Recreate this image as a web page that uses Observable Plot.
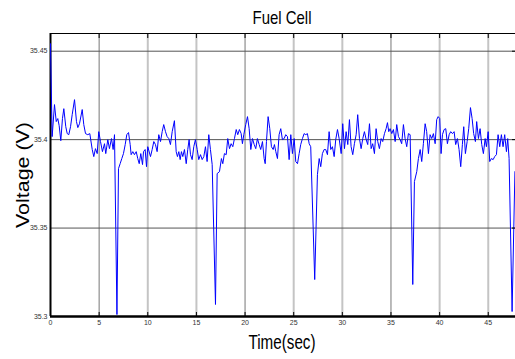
<!DOCTYPE html>
<html>
<head>
<meta charset="utf-8">
<script src="https://cdn.jsdelivr.net/npm/d3@7"></script>
<script src="https://cdn.jsdelivr.net/npm/@observablehq/plot@0.6"></script>
<style>
  html, body { margin: 0; padding: 0; background: #fff; }
</style>
</head>
<body>
<div id="chart"></div>
<script>
const title = "Fuel Cell";
const xLabel = "Time(sec)";
const yLabel = "Voltage (V)";

const xDomain = [0, 47.8];
const yDomain = [35.3, 35.46];
const xTicks = [0, 5, 10, 15, 20, 25, 30, 35, 40, 45];
const yTicks = [35.3, 35.35, 35.4, 35.45];
const yTickLabels = ["35.3", "35.35", "35.4", "35.45"];
const gridY = [35.35, 35.4, 35.45];

const time = [
  0, 0.17, 0.41, 0.59, 0.75, 0.89, 1.06, 1.23, 1.37, 1.57, 1.72, 1.88, 2.06, 2.23, 2.47, 2.67, 2.81, 2.98, 3.26, 3.42,
  3.60, 3.83, 4.04, 4.29, 4.45, 4.62, 4.80, 4.96, 5.14, 5.34, 5.55, 5.68, 5.89, 6.06, 6.27, 6.44, 6.58, 6.83, 6.99, 7.16,
  7.33, 7.50, 7.68, 7.84, 8.02, 8.19, 8.29, 8.46, 8.63, 8.81, 8.97, 9.12, 9.28, 9.46, 9.56, 9.73, 9.87, 10.0,
  10.28, 10.45, 10.62, 10.79, 10.96, 11.13, 11.31, 11.48, 11.64, 11.82, 11.99, 12.16, 12.33, 12.51, 12.74, 12.92, 13.05, 13.19, 13.33, 13.46,
  13.60, 13.77, 13.95, 14.11, 14.25, 14.39, 14.56, 14.73, 14.90, 15.08, 15.24, 15.42, 15.59, 15.76, 15.93, 16.10, 16.27, 16.44, 16.62, 16.96,
  17.13, 17.37, 17.57, 17.71, 17.88, 18.06, 18.22, 18.40, 18.57, 18.74, 18.91, 19.09, 19.25, 19.42, 19.60, 19.73, 19.87,
  20.07, 20.25, 20.42, 20.59, 20.76, 20.94, 21.10, 21.27, 21.45, 21.61, 21.79, 21.96, 22.07, 22.20, 22.37, 22.54, 22.71, 22.89, 23.02, 23.16,
  23.33, 23.50, 23.67, 23.84, 24.02, 24.18, 24.36, 24.53, 24.70, 24.87, 25.05, 25.21, 25.39, 25.56, 25.72, 25.90, 26.07, 26.24, 26.41, 26.59,
  26.75, 27.16, 27.44, 27.62, 27.78, 27.95, 28.13, 28.29, 28.47, 28.64, 28.81, 28.98, 29.16, 29.32, 29.50, 29.67, 29.88,
  30.04, 30.22, 30.39, 30.56, 30.73, 30.90, 31.07, 31.24, 31.42, 31.58, 31.76, 31.93, 32.10, 32.27, 32.45, 32.61, 32.79, 32.96, 33.12, 33.30,
  33.47, 33.64, 33.81, 33.99, 34.15, 34.33, 34.50, 34.64, 34.77, 34.91, 35.08, 35.25, 35.43, 35.59, 35.77, 35.94, 36.10, 36.28, 36.45, 36.62,
  36.79, 36.97, 37.24, 37.41, 37.65, 37.82, 38.00, 38.16, 38.33, 38.51, 38.67, 38.85, 39.02, 39.19, 39.36, 39.54, 39.70, 39.85,
  40.01, 40.15, 40.29, 40.46, 40.63, 40.80, 40.98, 41.14, 41.32, 41.49, 41.65, 41.83, 42.00, 42.17, 42.34, 42.48, 42.65, 42.83, 42.99, 43.17,
  43.34, 43.50, 43.68, 43.81, 43.99, 44.16, 44.33, 44.50, 44.68, 44.81, 44.99, 45.15, 45.32, 45.50, 45.66, 45.84, 46.01, 46.18, 46.35, 46.52,
  46.69, 46.87, 47.00, 47.14, 47.45, 47.74
];

const voltage = [
  35.4542, 35.4017, 35.4198, 35.4102, 35.4119, 35.4079, 35.3994, 35.4119, 35.4175, 35.4073, 35.4034, 35.4028, 35.4073, 35.4141, 35.4226, 35.4102, 35.4068, 35.4090, 35.4170, 35.4085,
  35.4034, 35.4028, 35.4034, 35.3944, 35.3904, 35.3949, 35.3921, 35.4045, 35.3989, 35.3932, 35.3977, 35.3921, 35.4000, 35.3949, 35.4006, 35.3944, 35.4028, 35.3011, 35.3836, 35.3864,
  35.3893, 35.3921, 35.3972, 35.4028, 35.4040, 35.3972, 35.3915, 35.3932, 35.3915, 35.3932, 35.3893, 35.3864, 35.3921, 35.3859, 35.3932, 35.3944, 35.3847, 35.3960,
  35.3904, 35.3944, 35.3989, 35.3972, 35.3932, 35.4028, 35.3989, 35.4045, 35.4085, 35.4045, 35.4017, 35.4006, 35.3972, 35.4045, 35.4107, 35.3932, 35.3904, 35.3932, 35.3887, 35.3932,
  35.3904, 35.3944, 35.3864, 35.3944, 35.4000, 35.3915, 35.3887, 35.3960, 35.4000, 35.3944, 35.3887, 35.3915, 35.3887, 35.3904, 35.3960, 35.3876, 35.4028, 35.3944, 35.3859, 35.3068,
  35.3808, 35.3819, 35.3893, 35.3864, 35.3921, 35.3915, 35.4006, 35.3949, 35.3977, 35.3960, 35.4006, 35.4057, 35.4028, 35.4057, 35.4034, 35.3977, 35.4028,
  35.4085, 35.4130, 35.4062, 35.3944, 35.4006, 35.3972, 35.3949, 35.4006, 35.3972, 35.3944, 35.3989, 35.3893, 35.3864, 35.3989, 35.4130, 35.4062, 35.3960, 35.3944, 35.3972, 35.3932,
  35.3893, 35.4028, 35.4062, 35.4000, 35.4006, 35.4028, 35.4017, 35.3887, 35.4028, 35.3921, 35.4006, 35.3876, 35.3864, 35.3921, 35.3972, 35.4006, 35.4034, 35.4028, 35.4034, 35.3977,
  35.3960, 35.3209, 35.3802, 35.3893, 35.3847, 35.3921, 35.3944, 35.3944, 35.3915, 35.4045, 35.3944, 35.3960, 35.3904, 35.4000, 35.4057, 35.4006, 35.3921,
  35.4090, 35.3949, 35.4045, 35.3972, 35.4113, 35.3960, 35.3915, 35.3977, 35.4028, 35.4141, 35.4006, 35.3949, 35.4006, 35.4045, 35.4000, 35.3972, 35.4090, 35.3949, 35.3977, 35.3921,
  35.4062, 35.3989, 35.3949, 35.4006, 35.3989, 35.4034, 35.4062, 35.4096, 35.4045, 35.4062, 35.4034, 35.4057, 35.3989, 35.4085, 35.4017, 35.4000, 35.3977, 35.4085, 35.4006, 35.3960,
  35.4034, 35.4028, 35.3181, 35.3763, 35.3819, 35.3893, 35.3944, 35.3876, 35.3977, 35.4090, 35.4045, 35.3921, 35.4028, 35.4006, 35.4034, 35.3977, 35.4113, 35.4130,
  35.4119, 35.3921, 35.4028, 35.4057, 35.4062, 35.3977, 35.4028, 35.4045, 35.4034, 35.4045, 35.3972, 35.4006, 35.3944, 35.3847, 35.3972, 35.4073, 35.3921, 35.3989, 35.4062, 35.4181,
  35.4119, 35.4034, 35.3989, 35.4102, 35.4006, 35.4062, 35.3972, 35.3921, 35.4006, 35.3960, 35.4045, 35.3876, 35.3893, 35.3887, 35.3904, 35.3915, 35.4028, 35.3960, 35.4028, 35.3960,
  35.4028, 35.3932, 35.4006, 35.3893, 35.3028, 35.3819
];

const data = time.map((t, i) => ({t, v: voltage[i]}));
const font = "'Liberation Sans', Arial, sans-serif";

const chart = Plot.plot({
  width: 515,
  height: 359,
  marginLeft: 50,
  marginRight: 0,
  marginTop: 33,
  marginBottom: 43,
  style: {fontFamily: font, fontSize: "7px", background: "#fff", color: "#000"},
  x: {domain: xDomain},
  y: {domain: yDomain},
  marks: [
    Plot.ruleX(xTicks.slice(1), {
      x: d => d,
      stroke: (d, i) => (i % 3 === 0 ? "#777" : "#c4c4c4"),
      strokeWidth: (d, i) => (i % 3 === 0 ? 1 : 2)
    }),
    Plot.ruleY(gridY, {y: d => d, stroke: "#555", strokeWidth: 1}),
    Plot.ruleY([yDomain[1]], {stroke: "#000", strokeWidth: 1}),
    Plot.ruleY([yDomain[0]], {stroke: "#000", strokeWidth: 2.5}),
    Plot.ruleX([xDomain[0]], {stroke: "#000", strokeWidth: 2}),
    Plot.line(data, {x: "t", y: "v", stroke: "#0000ff", strokeWidth: 1, clip: true}),
    Plot.axisX(xTicks, {anchor: "bottom", tickSize: -4, fill: "none", stroke: "#000"}),
    Plot.axisX(xTicks, {anchor: "top", tickSize: -4, fill: "none", stroke: "#000"}),
    Plot.axisY(yTicks, {anchor: "right", tickSize: -4, fill: "none", stroke: "#000"}),
    Plot.axisX(xTicks, {anchor: "bottom", tickSize: 0, tickPadding: 4, fill: "#333", label: null, tickFormat: d => String(d)}),
    Plot.axisY(yTicks, {anchor: "left", tickSize: 0, tickPadding: 3, fill: "#333", label: null, tickFormat: (d, i) => yTickLabels[i]})
  ]
});

const svg = d3.select(chart);
svg.append("text")
  .attr("x", 282).attr("y", 24)
  .attr("text-anchor", "middle")
  .attr("font-family", font).attr("font-size", 19)
  .attr("textLength", 59).attr("lengthAdjust", "spacingAndGlyphs")
  .attr("fill", "#000")
  .text(title);
svg.append("text")
  .attr("transform", "translate(29,175) rotate(-90)")
  .attr("text-anchor", "middle")
  .attr("font-family", font).attr("font-size", 19)
  .attr("textLength", 106).attr("lengthAdjust", "spacingAndGlyphs")
  .attr("fill", "#000")
  .text(yLabel);
svg.append("text")
  .attr("x", 282).attr("y", 349)
  .attr("text-anchor", "middle")
  .attr("font-family", font).attr("font-size", 20)
  .attr("textLength", 67).attr("lengthAdjust", "spacingAndGlyphs")
  .attr("fill", "#000")
  .text(xLabel);

document.getElementById("chart").appendChild(chart);
</script>
</body>
</html>
